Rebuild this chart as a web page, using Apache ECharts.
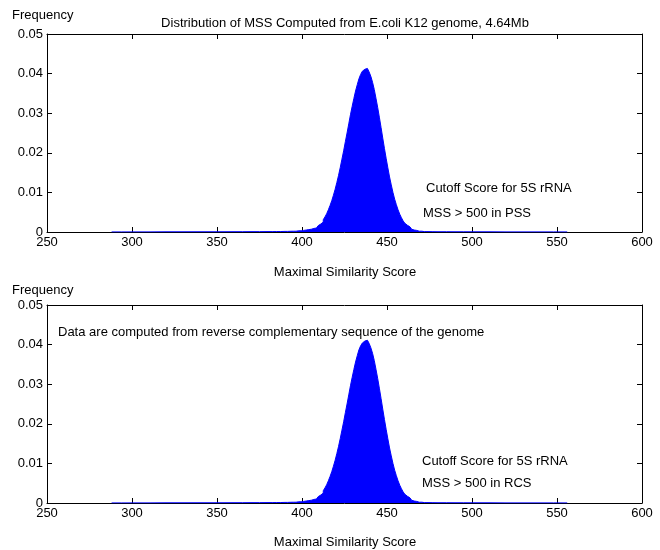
<!DOCTYPE html>
<html>
<head>
<meta charset="utf-8">
<script src="https://cdn.jsdelivr.net/npm/echarts@6/dist/echarts.min.js"></script>
<style>
html,body{margin:0;padding:0;background:#fff;}
#chart{width:660px;height:550px;}
</style>
</head>
<body>
<div id="chart"></div>
<script>
// ---- data ----
var xTicks = [250, 300, 350, 400, 450, 500, 550, 600];
var yTicks = [0, 0.01, 0.02, 0.03, 0.04, 0.05];

// sparse readings of the nearly-flat tails
var tailLeftScores = [288, 300, 320, 340, 360, 370, 380, 385, 390, 393];
var tailLeftFreq = [0.00002, 0.00003, 0.00004, 0.00005, 0.00007, 0.00009, 0.0001, 0.00012, 0.00015, 0.00018];
var tailRightScores = [474, 480, 490, 500, 520, 540, 556];
var tailRightFreq = [0.00008, 0.00006, 0.00005, 0.00004, 0.00003, 0.00003, 0.00002];

// core histogram, one bin per score starting at coreStart
var coreStart = 395;
var coreFreqPss = [
  0.0002,0.0002,0.0003,0.0003,0.0003,0.0004,0.0004,0.0005,0.0005,0.0006,
  0.0007,0.0008,0.0009,0.0010,0.0013,0.0016,0.0020,0.0025,0.0031,0.0038,
  0.0046,0.0056,0.0067,0.0079,0.0093,0.0108,0.0125,0.0143,0.0163,0.0184,
  0.0205,0.0228,0.0250,0.0273,0.0296,0.0317,0.0337,0.0356,0.0372,0.0387,
  0.0398,0.0406,0.0411,0.0413,0.0411,0.0404,0.0393,0.0378,0.0360,0.0338,
  0.0315,0.0290,0.0264,0.0237,0.0211,0.0186,0.0162,0.0139,0.0119,0.0100,
  0.0083,0.0069,0.0056,0.0045,0.0036,0.0028,0.0022,0.0017,0.0013,0.0010,
  0.0007,0.0005,0.0004,0.0003,0.0002,0.0002,0.0001,0.0001,0.0001
];
var coreFreqRcs = [
  0.0002,0.0002,0.0003,0.0003,0.0003,0.0004,0.0004,0.0005,0.0005,0.0006,
  0.0007,0.0008,0.0009,0.0010,0.0013,0.0016,0.0020,0.0025,0.0031,0.0038,
  0.0046,0.0056,0.0067,0.0079,0.0093,0.0108,0.0125,0.0143,0.0163,0.0184,
  0.0205,0.0228,0.0250,0.0273,0.0296,0.0317,0.0337,0.0356,0.0372,0.0387,
  0.0397,0.0404,0.0409,0.0411,0.0410,0.0403,0.0392,0.0378,0.0360,0.0338,
  0.0315,0.0290,0.0264,0.0237,0.0211,0.0186,0.0162,0.0139,0.0119,0.0100,
  0.0083,0.0069,0.0056,0.0045,0.0036,0.0028,0.0022,0.0017,0.0013,0.0010,
  0.0007,0.0005,0.0004,0.0003,0.0002,0.0002,0.0001,0.0001,0.0001
];

var titleText = 'Distribution of MSS Computed from E.coli K12 genome, 4.64Mb';
var xName = 'Maximal Similarity Score';
var yName = 'Frequency';
var noteRcs = 'Data are computed from reverse complementary sequence of the genome';
var cutoffText = 'Cutoff Score for 5S rRNA';
var pssText = 'MSS > 500 in PSS';
var rcsText = 'MSS > 500 in RCS';

// ---- build series data ----
function buildPairs(core) {
  var out = [];
  for (var i = 0; i < tailLeftScores.length; i++) out.push([tailLeftScores[i], tailLeftFreq[i]]);
  for (var j = 0; j < core.length; j++) out.push([coreStart + j, core[j]]);
  for (var k = 0; k < tailRightScores.length; k++) out.push([tailRightScores[k], tailRightFreq[k]]);
  return out;
}

var FONT = '"Liberation Sans", Arial, Helvetica, sans-serif';
var BLUE = '#0000ff';

function xAx(grid, pos) {
  return {
    type: 'value', gridIndex: grid, position: pos,
    min: xTicks[0], max: xTicks[xTicks.length - 1], interval: 50,
    axisLine: {show: true, onZero: false, lineStyle: {color: '#000', width: 1}},
    axisTick: {show: true, inside: true, length: 5, lineStyle: {color: '#000'}},
    axisLabel: {show: pos === 'bottom', color: '#000', fontSize: 13, fontFamily: FONT, margin: 4},
    splitLine: {show: false}
  };
}
function yAx(grid, pos) {
  return {
    type: 'value', gridIndex: grid, position: pos,
    min: yTicks[0], max: yTicks[yTicks.length - 1], interval: 0.01,
    axisLine: {show: true, onZero: false, lineStyle: {color: '#000', width: 1}},
    axisTick: {show: true, inside: true, length: 5, lineStyle: {color: '#000'}},
    axisLabel: {show: pos === 'left', color: '#000', fontSize: 13, fontFamily: FONT, margin: 4,
      formatter: function (v) { return v === 0 ? '0' : v.toFixed(2); }},
    splitLine: {show: false}
  };
}
function histSeries(idx, core) {
  return {
    type: 'line', xAxisIndex: idx * 2, yAxisIndex: idx * 2,
    data: buildPairs(core), step: 'middle', symbol: 'none',
    lineStyle: {color: BLUE, width: 1},
    areaStyle: {color: BLUE, opacity: 1},
    itemStyle: {color: BLUE},
    animation: false
  };
}
function txt(s, x, y, align) {
  return {type: 'text', left: undefined, style: {text: s, x: x, y: y, font: '13px ' + FONT, fill: '#000',
    textAlign: align || 'left', textVerticalAlign: 'middle', align: align || 'left', verticalAlign: 'middle'}};
}

var chart = echarts.init(document.getElementById('chart'), null, {renderer: 'canvas'});
chart.setOption({
  animation: false,
  backgroundColor: '#fff',
  grid: [
    {left: 47, right: 18, top: 34, height: 198},
    {left: 47, right: 18, top: 305, height: 198}
  ],
  xAxis: [xAx(0, 'bottom'), xAx(0, 'top'), xAx(1, 'bottom'), xAx(1, 'top')],
  yAxis: [yAx(0, 'left'), yAx(0, 'right'), yAx(1, 'left'), yAx(1, 'right')],
  series: [histSeries(0, coreFreqPss), histSeries(1, coreFreqRcs)],
  graphic: [
    txt(yName, 12, 15),
    txt(titleText, 345, 23, 'center'),
    txt(cutoffText, 426, 188),
    txt(pssText, 423, 213),
    txt(xName, 345, 272, 'center'),
    txt(yName, 12, 290),
    txt(noteRcs, 58, 332),
    txt(cutoffText, 422, 461),
    txt(rcsText, 422, 483),
    txt(xName, 345, 542, 'center')
  ]
});
</script>
</body>
</html>
